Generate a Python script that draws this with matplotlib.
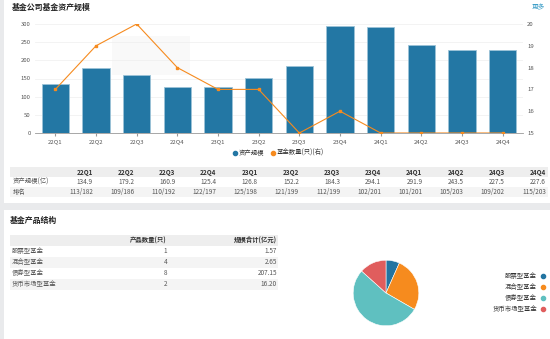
import matplotlib
matplotlib.use("Agg")
import matplotlib.pyplot as plt
from matplotlib.patches import Rectangle
import numpy as np

plt.rcParams['font.family'] = ['Noto Sans CJK SC', 'DejaVu Sans']

quarters = ["22Q1", "22Q2", "22Q3", "22Q4", "23Q1", "23Q2", "23Q3", "23Q4", "24Q1", "24Q2", "24Q3", "24Q4"]
asset_scale = [134.9, 179.2, 160.9, 125.4, 126.8, 152.2, 184.3, 294.1, 291.9, 243.5, 227.5, 227.6]
fund_count = [17, 19, 20, 18, 17, 17, 15, 16, 15, 15, 15, 15]
ranks = ["113/182", "109/186", "110/192", "122/197", "125/198", "121/199", "112/199", "102/201", "101/201", "105/203", "109/202", "115/203"]

left_ticks = [0, 50, 100, 150, 200, 250, 300]
right_ticks = [15, 16, 17, 18, 19, 20]

prod_types = ["股票型基金", "混合型基金", "债券型基金", "货币市场型基金"]
prod_counts = [1, 4, 8, 2]
prod_scale = ["1.57", "2.65", "207.15", "16.20"]

BLUE = "#2377a4"
ORANGE = "#f68b1f"
pie_colors = ["#2374a1", "#f68b1e", "#5fc0c0", "#e05d5d"]

W, H = 550, 339
fig = plt.figure(figsize=(W / 100, H / 100), dpi=100)
fig.patch.set_facecolor("#e9eaec")


def fx(x):
    return x / W


def fy(y):
    return 1 - y / H


def rect(x0, y0, x1, y1, color, z=-5):
    fig.patches.append(Rectangle((fx(x0), fy(y1)), fx(x1) - fx(x0), fy(y0) - fy(y1),
                                 transform=fig.transFigure, facecolor=color,
                                 edgecolor="none", zorder=z))


def text(x, y, s, **kw):
    kw.setdefault("fontsize", 4.6)
    kw.setdefault("color", "#333333")
    kw.setdefault("va", "center")
    fig.text(fx(x), fy(y), s, **kw)


# panels
rect(4, 0, 550, 203, "white", -10)
rect(4, 210, 550, 339, "white", -10)
rect(4, 15.5, 550, 16.2, "#e6e6e6", -5)
rect(4, 228.5, 550, 229.2, "#e6e6e6", -5)

text(12, 7, "基金公司基金资产规模", fontsize=5.7, fontweight="bold", color="#222222")
text(545, 7, "更多", fontsize=4.8, color="#3f9fc8", ha="right")
text(10, 220, "基金产品结构", fontsize=5.7, fontweight="bold", color="#222222")

# faint tooltip ghost
rect(112, 36, 190, 75, "#f9f9f9", -4)

# main chart
ax = fig.add_axes([fx(35), fy(133), fx(523) - fx(35), fy(24) - fy(133)])
ax.set_facecolor("none")
x = np.arange(len(quarters))
ax.bar(x, asset_scale, width=0.68, color=BLUE, edgecolor="#9cc3d8", linewidth=0.6, zorder=3)
ax.set_xlim(-0.5, len(quarters) - 0.5)
ax.set_ylim(0, 300)
ax.set_yticks(left_ticks)
ax.set_xticks(x)
ax.set_xticklabels(quarters)
ax.tick_params(axis="both", labelsize=4.3, colors="#555555", length=0, pad=3)
ax.tick_params(axis="x", length=2, color="#999999", pad=2.5)
ax.grid(axis="y", color="#eeeeee", linewidth=0.5, zorder=0)
for s in ["top", "right", "left"]:
    ax.spines[s].set_visible(False)
ax.spines["bottom"].set_color("#999999")
ax.spines["bottom"].set_linewidth(0.6)

ax2 = ax.twinx()
ax2.plot(x, fund_count, color=ORANGE, linewidth=0.8, marker="s", markersize=1.6, zorder=5)
ax2.set_ylim(15, 20)
ax2.set_yticks(right_ticks)
ax2.tick_params(axis="y", labelsize=4.3, colors="#555555", length=0, pad=3)
for s in ["top", "right", "left", "bottom"]:
    ax2.spines[s].set_visible(False)

# legend
fig.lines.append(plt.Line2D([fx(235)], [fy(153)], marker="o", markersize=3, color=BLUE, transform=fig.transFigure))
text(239, 153, "资产规模", fontsize=4.6)
fig.lines.append(plt.Line2D([fx(273)], [fy(153)], marker="o", markersize=3, color=ORANGE, transform=fig.transFigure))
text(277, 153, "基金数量(只)(右)", fontsize=4.6)

# data table
rect(10, 167, 548, 177, "#eeeeee")
rect(10, 187, 548, 197, "#f4f4f4")
col_right = np.linspace(93, 546, len(quarters))
for i, q in enumerate(quarters):
    text(col_right[i], 172, q, ha="right", fontweight="bold", fontsize=4.6)
    text(col_right[i], 182, f"{asset_scale[i]:.1f}", ha="right", color="#555555")
    text(col_right[i], 192, ranks[i], ha="right", color="#555555")
text(13, 182, "资产规模(亿)", color="#555555")
text(13, 192, "排名", color="#555555")

# product table
rect(10, 235, 278, 245.5, "#eeeeee")
rect(10, 256.5, 278, 267.5, "#f4f4f4")
rect(10, 278.5, 278, 289.5, "#f4f4f4")
rect(10, 289.5, 278, 290.0, "#e6e6e6")
text(167, 240.5, "产品数量(只)", ha="right", fontweight="bold")
text(277, 240.5, "规模合计(亿元)", ha="right", fontweight="bold")
for i, name in enumerate(prod_types):
    yy = 251 + 11 * i
    text(12, yy, name, color="#555555")
    text(167, yy, str(prod_counts[i]), ha="right", color="#555555")
    text(277, yy, prod_scale[i], ha="right", color="#555555")

# pie
r = 41
pax = fig.add_axes([fx(386 - r), fy(293 + r), fx(2 * r), fy(293 - r) - fy(293 + r)])
pax.pie(prod_counts, colors=pie_colors, startangle=90, counterclock=False,
        wedgeprops=dict(edgecolor="white", linewidth=0.4))
pax.set_aspect("equal")

for i, name in enumerate(prod_types):
    yy = 276 + 11 * i
    text(537, yy, name, ha="right", fontsize=4.6)
    fig.lines.append(plt.Line2D([fx(543)], [fy(yy)], marker="o", markersize=3,
                                color=pie_colors[i], transform=fig.transFigure))

fig.savefig("out.png", dpi=100, facecolor=fig.get_facecolor())
